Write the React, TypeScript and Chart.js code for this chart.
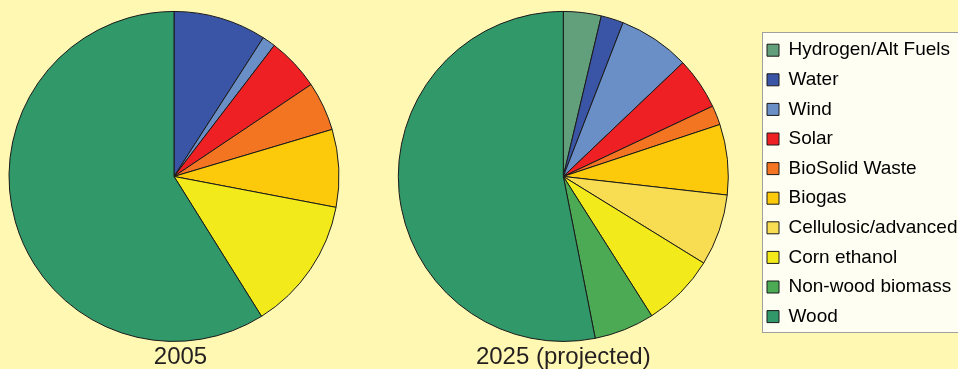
import { useEffect, useRef } from "react";
import { Chart, registerables } from "chart.js";

Chart.register(...registerables);

const categories = [
  "Hydrogen/Alt Fuels",
  "Water",
  "Wind",
  "Solar",
  "BioSolid Waste",
  "Biogas",
  "Cellulosic/advanced",
  "Corn ethanol",
  "Non-wood biomass",
  "Wood",
];
const values2005 = [0, 9.1, 1.3, 5.2, 4.8, 7.6, 0, 13.1, 0, 58.9];
const values2025 = [3.7, 2.2, 7.0, 5.1, 1.9, 6.9, 7.0, 7.2, 5.9, 53.1];
const sliceColors = [
  "#62A07C",
  "#3A55A5",
  "#6A8EC6",
  "#EE2024",
  "#F37421",
  "#FDCA0B",
  "#F8DD52",
  "#F2EA1A",
  "#4CAA55",
  "#31986A",
];
const pieTitles = ["2005", "2025 (projected)"];

const FONT = "'Liberation Sans', Arial, Helvetica, sans-serif";

const legendBoxPlugin = {
  id: "legendBox",
  beforeDraw(chart: any) {
    const lg = chart.legend;
    if (!lg || !lg.options.display) return;
    const ctx = chart.ctx;
    const x = Math.round(lg.left + 5.6) + 0.5;
    const y = 32.5;
    const w = chart.width - x + 5;
    const h = 300;
    ctx.save();
    ctx.fillStyle = "#FFFEF3";
    ctx.fillRect(x, y, w, h);
    ctx.strokeStyle = "#A0A0A0";
    ctx.lineWidth = 1;
    ctx.strokeRect(x, y, w, h);
    ctx.restore();
  },
};

const titleShiftPlugin = {
  id: "titleShift",
  afterLayout(chart: any) {
    const t = chart.titleBlock;
    if (t) {
      t.left += 6.5;
      t.right += 6.5;
    }
  },
};

export default function App() {
  const c1 = useRef<HTMLCanvasElement>(null);
  const c2 = useRef<HTMLCanvasElement>(null);

  useEffect(() => {
    const dataset = (vals: number[]) => ({
      data: vals,
      backgroundColor: sliceColors,
      borderColor: "#1A1A1A",
      borderWidth: 1,
      hoverBorderWidth: 1,
      radius: 165,
    });

    const titleOpts = (text: string, fullSize: boolean) => ({
      display: true,
      text,
      position: "bottom" as const,
      fullSize,
      color: "#231F20",
      font: { family: FONT, size: 24, weight: "normal" as const, lineHeight: 1 },
      padding: { top: 3.3, bottom: 0 },
    });

    const chart1 = new Chart(c1.current!, {
      type: "pie",
      data: { labels: categories, datasets: [dataset(values2005)] },
      options: {
        responsive: false,
        animation: false,
        layout: { padding: { top: 11.2, left: 0, right: 0, bottom: 0 } },
        plugins: {
          legend: { display: false },
          tooltip: { enabled: false },
          title: titleOpts(pieTitles[0], true),
        },
      },
      plugins: [titleShiftPlugin],
    });

    const chart2 = new Chart(c2.current!, {
      type: "pie",
      data: { labels: categories, datasets: [dataset(values2025)] },
      options: {
        responsive: false,
        animation: false,
        layout: { padding: { top: 11.2, left: 20.2, right: 0, bottom: 0 } },
        plugins: {
          tooltip: { enabled: false },
          title: titleOpts(pieTitles[1], false),
          legend: {
            display: true,
            position: "right",
            align: "start",
            maxWidth: 201.6,
            title: {
              display: true,
              text: " ",
              font: { family: FONT, size: 10 },
              padding: { top: 3.45, bottom: 3.45 },
            },
            labels: {
              boxWidth: 12,
              boxHeight: 12,
              padding: 10.6,
              color: "#000000",
              font: { family: FONT, size: 19 },
            },
          },
        },
      },
      plugins: [legendBoxPlugin],
    });

    return () => {
      chart1.destroy();
      chart2.destroy();
    };
  }, []);

  return (
    <div
      style={{
        position: "fixed",
        left: 0,
        top: 0,
        width: 958,
        height: 369,
        background: "#FFF8B2",
        overflow: "hidden",
      }}
    >
      <canvas
        ref={c1}
        width={348}
        height={369}
        style={{ position: "absolute", left: 0, top: 0, width: 348, height: 369 }}
      />
      <canvas
        ref={c2}
        width={608}
        height={369}
        style={{ position: "absolute", left: 350, top: 0, width: 608, height: 369 }}
      />
    </div>
  );
}
